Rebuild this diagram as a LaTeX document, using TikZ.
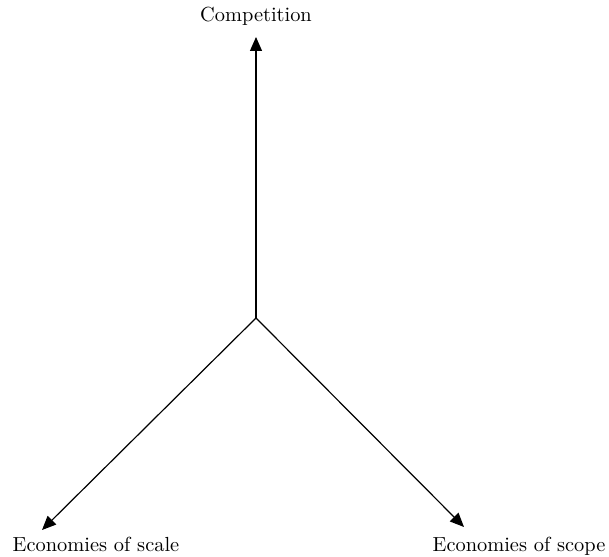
\documentclass[tikz,border=0pt]{standalone}
\usetikzlibrary{arrows.meta}
\begin{document}
\begin{tikzpicture}[x=0.5pt,y=-0.5pt,
  lbl/.style={font=\fontsize{10.2}{12}\selectfont, inner sep=0pt, anchor=base},
  arr/.style={-{Triangle[length=7pt,width=6pt]}, line width=0.6pt}]
\useasboundingbox (0,0) rectangle (609,556);
\coordinate (o) at (256,318);
\coordinate (tt) at (256,37);
\coordinate (tl) at (42,530);
\coordinate (tr) at (464,527);
\node[lbl] (comp) at (256,22) {Competition};
\node[lbl] (scale) at (96,551) {Economies of scale};
\node[lbl] (scope) at (519,551) {Economies of scope};
\draw[arr] (o) -- (tt);
\draw[arr] (o) -- (tl);
\draw[arr] (o) -- (tr);
\end{tikzpicture}
\end{document}
